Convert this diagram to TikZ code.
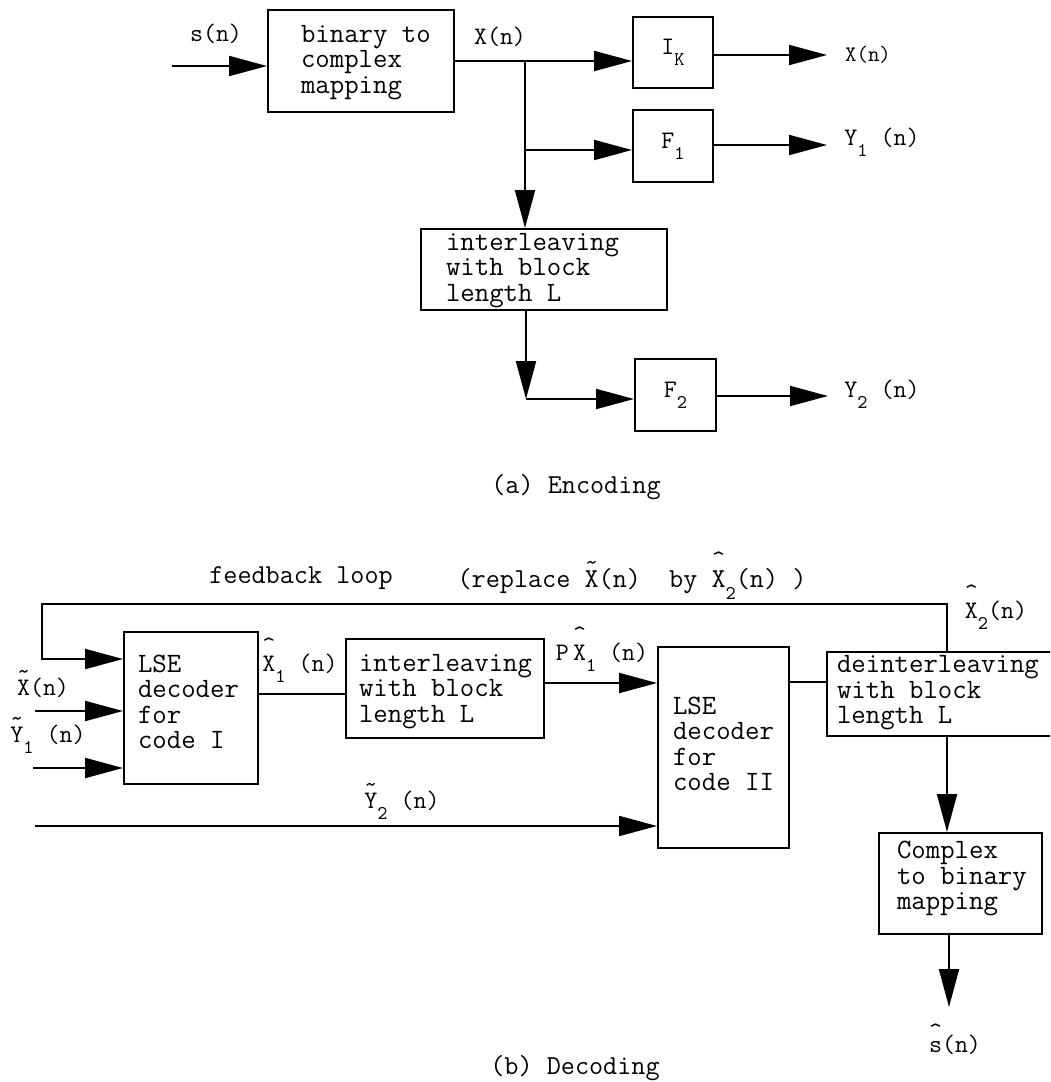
\documentclass[tikz,border=0pt]{standalone}
\usetikzlibrary{arrows.meta}
\begin{document}
\begin{tikzpicture}[x=0.5pt,y=-0.5pt,line width=1pt,
  box/.style={draw,inner sep=0pt,font=\ttfamily\fontsize{12.6}{12.6}\selectfont},
  txt/.style={anchor=west,align=left,inner sep=0pt,font=\ttfamily\fontsize{14}{12.75}\selectfont},
  lbl/.style={inner sep=0pt,font=\ttfamily\fontsize{12.6}{12.6}\selectfont},
  lblb/.style={inner sep=0pt,font=\ttfamily\fontsize{13.7}{13.7}\selectfont},
  arr/.style={-{Triangle[length=19pt,width=10pt]}}]
  \def\hatm#1{\ooalign{#1\cr\hidewidth\raisebox{\dimexpr\fontcharht\font`#1+.1em}{\fontsize{12.6}{12.6}\selectfont\textasciicircum}\hidewidth\cr}}
  \def\tilm#1{\ooalign{#1\cr\hidewidth\raisebox{\dimexpr\fontcharht\font`#1+.02em}{\fontsize{12.6}{12.6}\selectfont\textasciitilde}\hidewidth\cr}}
  \def\sub#1{\raisebox{-.45em}{\fontsize{9.7}{9.7}\selectfont#1}}
  \useasboundingbox (0,0) rectangle (1050,1082);
  \clip (0,0) rectangle (1050,1082);
  % (a) encoding
  \node[lbl] (sn) at (216,34) {s(n)};
  \node[box,minimum width=93pt,minimum height=51pt] (map) at (361,61) {};
  \node[txt] (mapt) at (300,62.5) {binary to\\complex\\mapping};
  \node[lbl] (xn) at (500,37) {X(n)};
  \node[box,minimum width=40pt,minimum height=35.5pt] (ik) at (673,52.5) {I\sub{K}};
  \node[box,minimum width=40pt,minimum height=36pt] (fa) at (673,146) {F\sub{1}};
  \node[box,minimum width=123pt,minimum height=40.5pt] (ilv) at (544,269.5) {};
  \node[txt] (ilvt) at (445,270.5) {interleaving\\with block\\length L};
  \node[box,minimum width=40.5pt,minimum height=36pt] (fb) at (675.5,395) {F\sub{2}};
  \node[lbl,font=\ttfamily\fontsize{11.1}{11.1}\selectfont] (xo) at (868,55) {X(n)};
  \node[lbl] (yao) at (882,142) {Y\sub{1}~(n)};
  \node[lbl] (ybo) at (882,394) {Y\sub{2}~(n)};
  \node[lblb] (capa) at (576,487) {(a) Encoding};
  \coordinate (sin) at (172,66);
  \coordinate (br1) at (525,61);
  \coordinate (br2) at (525,150);
  \coordinate (cn2) at (526,399);
  \coordinate (xoe) at (827,55);
  \coordinate (yae) at (827,145);
  \coordinate (ybe) at (828,396);
  \draw[arr] (sin) -- (map.west |- sin);
  \draw (map.east |- br1) -- (br1);
  \draw[arr] (br1) -- (ik.west |- br1);
  \draw[arr] (br2) -- (fa.west |- br2);
  \draw[arr] (br1) -- (ilv.north -| br1);
  \draw[arr] (ilv.south -| cn2) -- (cn2);
  \draw[arr] (cn2) -- (fb.west |- cn2);
  \draw[arr] (ik.east |- xoe) -- (xoe);
  \draw[arr] (fa.east |- yae) -- (yae);
  \draw[arr] (fb.east |- ybe) -- (ybe);
  % (b) decoding
  \node[lblb] (fbl) at (301,578) {feedback loop};
  \node[lblb] (repl) at (632,584) {(replace~\tilm{X}(n)~~by~\hatm{X}\sub{2}(n)~)};
  \node[box,minimum width=67pt,minimum height=76pt] (lsea) at (191,708) {};
  \node[txt] (lseat) at (137,702) {LSE\\decoder\\for\\code I};
  \node[box,minimum width=99pt,minimum height=49.5pt] (ild) at (445,688.5) {};
  \node[txt] (ildt) at (358,691.5) {interleaving\\with block\\length L};
  \node[box,minimum width=65.5pt,minimum height=100.5pt] (lseb) at (723.5,747.5) {};
  \node[txt] (lsebt) at (672,744) {LSE\\decoder\\for\\code II};
  \node[box,minimum width=120pt,minimum height=42pt] (dil) at (947,694) {};
  \node[txt] (dilt) at (836,693) {deinterleaving\\with block\\length L};
  \node[box,minimum width=81.5pt,minimum height=50.5pt] (cbm) at (960.5,883.5) {};
  \node[txt] (cbmt) at (896,878.5) {Complex\\to binary\\mapping};
  \node[lbl] (xh2) at (996,615) {\hatm{X}\sub{2}(n)};
  \node[lbl] (pxh1) at (602,657) {P\,\hatm{X}\sub{1}~(n)};
  \node[lbl] (xh1) at (300,668) {\hatm{X}\sub{1}~(n)};
  \node[lbl] (xt) at (43,688) {\tilm{X}(n)};
  \node[lbl] (yt1) at (48,739) {\tilm{Y}\sub{1}~(n)};
  \node[lbl] (yt2) at (402,805) {\tilm{Y}\sub{2}~(n)};
  \node[lbl] (sh) at (955,1045) {\hatm{s}(n)};
  \node[lblb] (capb) at (575,1068) {(b) Decoding};
  \coordinate (fbc) at (42,604);
  \coordinate (fbin) at (0,659);
  \coordinate (xin) at (35,711);
  \coordinate (yain) at (33,768);
  \coordinate (ybin) at (35,826);
  \coordinate (l1) at (0,694);
  \coordinate (l2) at (0,683);
  \coordinate (l3) at (0,682);
  \coordinate (sout) at (949,1007);
  \draw[arr] (dil.north) |- (fbc) |- (lsea.west |- fbin);
  \draw[arr] (xin) -- (lsea.west |- xin);
  \draw[arr] (yain) -- (lsea.west |- yain);
  \draw[arr] (ybin) -- (lseb.west |- ybin);
  \draw (lsea.east |- l1) -- (ild.west |- l1);
  \draw[arr] (ild.east |- l2) -- (lseb.west |- l2);
  \draw (lseb.east |- l3) -- (dil.west |- l3);
  \draw[arr] (dil.south) -- (cbm.north -| dil.south);
  \draw[arr] (cbm.south -| sout) -- (sout);
\end{tikzpicture}
\end{document}
